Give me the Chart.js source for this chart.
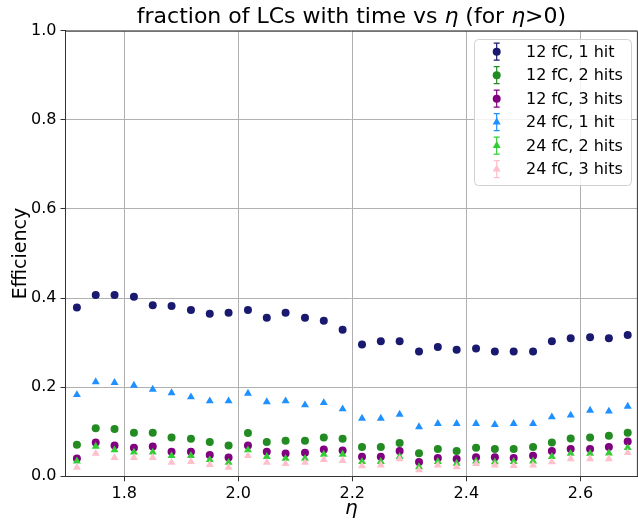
<!DOCTYPE html>
<html>
<head>
<meta charset="utf-8">
<script src="https://cdn.jsdelivr.net/npm/chart.js@4"></script>
<style>
  html, body { margin: 0; padding: 0; background: #fff; overflow: hidden; }
  #wrap { width: 642px; height: 524px; position: relative; }
</style>
</head>
<body>
<div id="wrap"><canvas id="chart"></canvas></div>
<script>
//eta bin centres (30 bins between 1.7 and 2.7)
const eta = [1.717, 1.750, 1.783, 1.817, 1.850, 1.883, 1.917, 1.950, 1.983, 2.017,
             2.050, 2.083, 2.117, 2.150, 2.183, 2.217, 2.250, 2.283, 2.317, 2.350,
             2.383, 2.417, 2.450, 2.483, 2.517, 2.550, 2.583, 2.617, 2.650, 2.683];

//efficiency per threshold / hit requirement
const eff12fC1hit = [0.379, 0.407, 0.407, 0.403, 0.384, 0.382, 0.373, 0.365, 0.367, 0.373,
                     0.356, 0.367, 0.356, 0.349, 0.329, 0.296, 0.303, 0.303, 0.280, 0.290,
                     0.284, 0.287, 0.280, 0.280, 0.280, 0.303, 0.310, 0.312, 0.310, 0.317];
const eff12fC2hits = [0.071, 0.108, 0.106, 0.098, 0.098, 0.087, 0.084, 0.077, 0.069, 0.097,
                      0.077, 0.080, 0.080, 0.087, 0.084, 0.066, 0.066, 0.075, 0.052, 0.061,
                      0.057, 0.064, 0.061, 0.061, 0.066, 0.076, 0.085, 0.087, 0.091, 0.098];
const eff12fC3hits = [0.040, 0.076, 0.069, 0.064, 0.067, 0.055, 0.055, 0.048, 0.042, 0.069,
                      0.055, 0.051, 0.053, 0.060, 0.058, 0.044, 0.044, 0.057, 0.032, 0.041,
                      0.039, 0.043, 0.043, 0.041, 0.046, 0.057, 0.061, 0.061, 0.066, 0.078];
const eff24fC1hit = [0.183, 0.212, 0.210, 0.204, 0.195, 0.187, 0.178, 0.169, 0.169, 0.186,
                     0.167, 0.169, 0.160, 0.165, 0.151, 0.130, 0.130, 0.139, 0.111, 0.118,
                     0.118, 0.118, 0.116, 0.118, 0.118, 0.133, 0.137, 0.148, 0.146, 0.157];
const eff24fC2hits = [0.034, 0.067, 0.059, 0.054, 0.054, 0.046, 0.046, 0.037, 0.031, 0.059,
                      0.044, 0.040, 0.040, 0.049, 0.049, 0.033, 0.033, 0.044, 0.021, 0.033,
                      0.029, 0.034, 0.032, 0.033, 0.034, 0.044, 0.051, 0.051, 0.052, 0.064];
const eff24fC3hits = [0.020, 0.051, 0.042, 0.042, 0.042, 0.031, 0.033, 0.026, 0.020, 0.046,
                      0.031, 0.028, 0.031, 0.037, 0.035, 0.023, 0.025, 0.039, 0.014, 0.025,
                      0.021, 0.028, 0.025, 0.024, 0.025, 0.032, 0.039, 0.039, 0.039, 0.053];

const seriesLabels = ["12 fC, 1 hit", "12 fC, 2 hits", "12 fC, 3 hits",
                      "24 fC, 1 hit", "24 fC, 2 hits", "24 fC, 3 hits"];
const seriesValues = [eff12fC1hit, eff12fC2hits, eff12fC3hits, eff24fC1hit, eff24fC2hits, eff24fC3hits];
const seriesColours = ["#191970", "#228b22", "#800080", "#1e90ff", "#32cd32", "#ffc0cb"];
const seriesShapes = ["circle", "circle", "circle", "triangle", "triangle", "triangle"];

const xTicks = [1.8, 2.0, 2.2, 2.4, 2.6];
const yTicks = [0.0, 0.2, 0.4, 0.6, 0.8, 1.0];

const FONT = "'DejaVu Sans', sans-serif";

//builds the dataset list, later series drawn on top like matplotlib does
const datasets = seriesValues.map((vals, i) => ({
  label: seriesLabels[i],
  data: vals.map((v, j) => ({ x: eta[j], y: v })),
  backgroundColor: seriesColours[i],
  borderColor: seriesColours[i],
  borderWidth: 0,
  pointStyle: seriesShapes[i],
  pointRadius: seriesShapes[i] === "circle" ? 4 : 4.6,
  showLine: false,
  order: seriesValues.length - i,
}));

//title with italic eta, plus the axis labels and the top spine
const decorations = {
  id: "decorations",
  afterDraw(chart) {
    const ctx = chart.ctx;
    const area = chart.chartArea;
    ctx.save();

    //frame (top + right spine, chart.js only does left/bottom)
    ctx.strokeStyle = "#333";
    ctx.lineWidth = 1;
    ctx.beginPath();
    ctx.moveTo(area.left, area.top + 0.5);
    ctx.lineTo(area.right, area.top + 0.5);
    ctx.lineTo(area.right, area.bottom);
    ctx.stroke();

    //title pieces
    const parts = [
      ["fraction of LCs with time vs ", false],
      ["η", true],
      [" (for ", false],
      ["η", true],
      [">0)", false],
    ];
    const size = 22;
    let total = 0;
    parts.forEach(p => {
      ctx.font = (p[1] ? "italic " : "") + size + "px " + FONT;
      total += ctx.measureText(p[0]).width;
    });
    let x = (area.left + area.right) / 2 - total / 2;
    ctx.fillStyle = "#000";
    ctx.textBaseline = "alphabetic";
    ctx.textAlign = "left";
    parts.forEach(p => {
      ctx.font = (p[1] ? "italic " : "") + size + "px " + FONT;
      ctx.fillText(p[0], x, 23);
      x += ctx.measureText(p[0]).width;
    });

    //x label
    ctx.font = "italic 20px " + FONT;
    ctx.textAlign = "center";
    ctx.fillText("η", (area.left + area.right) / 2, 514);

    //y label
    ctx.translate(26, (area.top + area.bottom) / 2);
    ctx.rotate(-Math.PI / 2);
    ctx.font = "19px " + FONT;
    ctx.fillText("Efficiency", 0, 0);
    ctx.restore();
  }
};

//matplotlib style legend box with errorbar glyphs
const legendBox = {
  id: "legendBox",
  afterDraw(chart) {
    const ctx = chart.ctx;
    const left = 474.5, top = 39.5, w = 157, h = 146;
    ctx.save();
    ctx.fillStyle = "rgba(255,255,255,0.85)";
    ctx.strokeStyle = "#d0d0d0";
    ctx.lineWidth = 1;
    ctx.beginPath();
    ctx.roundRect(left, top, w, h, 4);
    ctx.fill();
    ctx.stroke();

    chart.data.datasets.forEach((ds, i) => {
      const cy = 51.7 + i * 23.5;
      const cx = 496.7;
      ctx.strokeStyle = ds.borderColor;
      ctx.fillStyle = ds.backgroundColor;
      ctx.lineWidth = 1.2;
      ctx.beginPath();
      ctx.moveTo(cx, cy - 8.5); ctx.lineTo(cx, cy + 8.5);
      ctx.moveTo(cx - 3, cy - 8.5); ctx.lineTo(cx + 3, cy - 8.5);
      ctx.moveTo(cx - 3, cy + 8.5); ctx.lineTo(cx + 3, cy + 8.5);
      ctx.stroke();
      Chart.helpers.drawPoint(ctx, { pointStyle: ds.pointStyle, radius: ds.pointRadius, borderWidth: 0 }, cx, cy);

      ctx.fillStyle = "#000";
      ctx.font = "16px " + FONT;
      ctx.textBaseline = "middle";
      ctx.textAlign = "left";
      ctx.fillText(ds.label, 526, cy + 1);
    });
    ctx.restore();
  }
};

new Chart(document.getElementById("chart").getContext("2d"), {
  type: "scatter",
  data: { datasets },
  plugins: [decorations, legendBox],
  options: {
    responsive: true,
    maintainAspectRatio: false,
    animation: false,
    layout: { padding: { left: 0, right: 2.3, top: 30.7, bottom: 0 } },
    plugins: { legend: { display: false }, tooltip: { enabled: false } },
    scales: {
      x: {
        type: "linear",
        min: 1.697,
        max: 2.7,
        afterBuildTicks: s => { s.ticks = xTicks.map(v => ({ value: v })); },
        afterFit: s => { s.height = 47.7; },
        ticks: {
          color: "#000",
          font: { family: FONT, size: 16 },
          padding: 3,
          maxRotation: 0,
          callback: v => v.toFixed(1),
        },
        grid: { color: "#b0b0b0", lineWidth: 1, tickLength: 5, tickColor: "#333" },
        border: { display: true, color: "#333", width: 1 },
      },
      y: {
        min: 0,
        max: 1,
        afterBuildTicks: s => { s.ticks = yTicks.map(v => ({ value: v })); },
        afterFit: s => { s.width = 65.5; },
        ticks: {
          color: "#000",
          font: { family: FONT, size: 16 },
          padding: 4,
          callback: v => v.toFixed(1),
        },
        grid: { color: "#b0b0b0", lineWidth: 1, tickLength: 5, tickColor: "#333" },
        border: { display: true, color: "#333", width: 1 },
      },
    },
  },
});
</script>
</body>
</html>
